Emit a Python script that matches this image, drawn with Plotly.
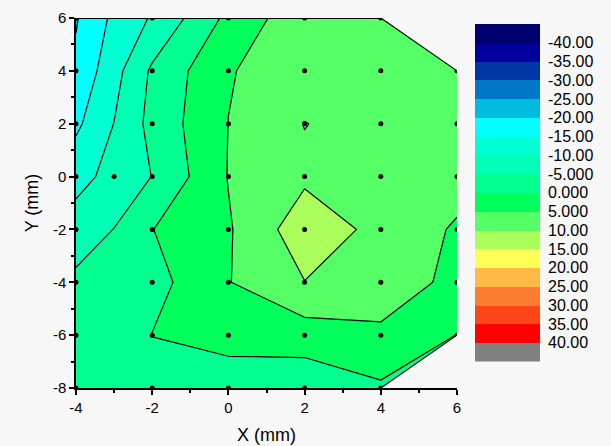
import plotly.graph_objects as go

# ---------------- data ----------------
x_grid = [-4, -2, 0, 2, 4, 6]
y_grid = [6, 4, 2, 0, -2, -4, -6, -8]
# rows follow y_grid (top to bottom), columns follow x_grid; None = no sample
z_rows = [
    [-20.4, -9.5, 1.2, 8.5, 7.0, None],
    [-19.0, -4.2, 4.7, 7.5, 7.5, 6.5],
    [-16.0, -3.4, 5.05, 10.12, 8.0, 7.0],
    [-11.6, -4.9, 5.2, 9.1, 8.5, 7.0],
    [-7.8, -0.1, 4.5, 13.0, 8.6, 4.4],
    [-3.9, -1.8, 4.8, 9.9, 8.0, 3.6],
    [-3.2, 0.1, 2.0, 2.5, 4.0, -0.1],
    [-2.8, -3.0, -3.0, -3.4, -0.7, None],
]
extra_x = [-3]
extra_y = [0]
extra_z = [-8.5]

level_start = -40
level_end = 40
level_step = 5
band_colors = [
    "#00006E", "#00009C", "#0036A6", "#0078C8", "#00BAE0", "#00FFFF",
    "#00FFD2", "#00FFB4", "#00FF8E", "#00FF5A", "#55FF66", "#AAFF5A",
    "#FFFF55", "#FFB946", "#FF7D32", "#FF4619", "#FF0000", "#808080",
]

x_ticks = [-4, -2, 0, 2, 4, 6]
y_ticks = [-8, -6, -4, -2, 0, 2, 4, 6]
x_title = "X (mm)"
y_title = "Y (mm)"

# ---------------- build ----------------
xs, ys, zs = [], [], []
for yv, row in zip(y_grid, z_rows):
    for xv, zv in zip(x_grid, row):
        if zv is not None:
            xs.append(xv)
            ys.append(yv)
            zs.append(zv)
xs += extra_x
ys += extra_y
zs += extra_z

levels = list(range(level_start, level_end + level_step, level_step))
n = len(band_colors) - 1
cscale = []
for k, c in enumerate(band_colors):
    cscale.append([max(0.0, (k - 0.5) / n), c])
    cscale.append([min(1.0, (k + 0.5) / n), c])
zlo = level_start - level_step / 2
zhi = level_end + level_step / 2
band_centers = [zlo + level_step * k for k in range(len(band_colors))]

BG = "#F7F7F7"
FONT = "Liberation Sans, Arial, sans-serif"
W, H = 611, 446

fig = go.Figure()
fig.add_trace(go.Contour(
    x=xs, y=ys, z=zs, connectgaps=True,
    colorscale=cscale, zmin=zlo, zmax=zhi, showscale=False,
    autocontour=False,
    contours=dict(start=level_start, end=level_end, size=level_step,
                  coloring="fill", showlines=True),
    line=dict(color="black", width=1.2, smoothing=0),
    hoverinfo="skip", xaxis="x", yaxis="y",
))
fig.add_trace(go.Scatter(
    x=xs, y=ys, mode="markers",
    marker=dict(color="black", size=5),
    hoverinfo="skip", xaxis="x", yaxis="y",
))
# colour key drawn as a one-column heatmap of band centres
fig.add_trace(go.Heatmap(
    x=[0], y=band_centers, z=[[v] for v in band_centers],
    colorscale=cscale, zmin=zlo, zmax=zhi, showscale=False,
    hoverinfo="skip", xaxis="x2", yaxis="y2",
))

# hull of the sampled region: mask the missing corners
xmin, xmax = min(x_grid), max(x_grid)
ymin, ymax = min(y_grid), max(y_grid)
pts = set(zip(xs, ys))
top_x = max(x for x, y in pts if y == ymax)
bot_x = max(x for x, y in pts if y == ymin)
right_top = max(y for x, y in pts if x == xmax)
right_bot = min(y for x, y in pts if x == xmax)
pad = 1
shapes = [
    dict(type="path", xref="x", yref="y", layer="above",
         path=f"M {top_x},{ymax} L {xmax},{right_top} L {xmax+pad},{right_top} "
              f"L {xmax+pad},{ymax+pad} L {top_x},{ymax+pad} Z",
         fillcolor=BG, line=dict(width=0)),
    dict(type="path", xref="x", yref="y", layer="above",
         path=f"M {bot_x},{ymin} L {xmax},{right_bot} L {xmax+pad},{right_bot} "
              f"L {xmax+pad},{ymin-pad} L {bot_x},{ymin-pad} Z",
         fillcolor=BG, line=dict(width=0)),
    dict(type="line", xref="x", yref="y", layer="above",
         x0=xmin, y0=ymax, x1=top_x, y1=ymax, line=dict(color="black", width=2)),
    dict(type="line", xref="x", yref="y", layer="above",
         x0=top_x, y0=ymax, x1=xmax, y1=right_top, line=dict(color="black", width=1.2)),
    dict(type="line", xref="x", yref="y", layer="above",
         x0=bot_x, y0=ymin, x1=xmax, y1=right_bot, line=dict(color="black", width=1.2)),
]

def lab(v):
    return str(v)

axis_common = dict(
    showgrid=False, zeroline=False, showline=True, linecolor="black", linewidth=1.5,
    ticks="outside", ticklen=5, tickwidth=1.5, tickcolor="black", automargin=False,
    tickfont=dict(size=15, color="black", family=FONT),
)

fig.update_layout(
    width=W, height=H, margin=dict(l=0, r=0, t=0, b=0, pad=0), autosize=False,
    paper_bgcolor=BG, plot_bgcolor=BG, showlegend=False,
    font=dict(family=FONT, color="black"),
    shapes=shapes,
    xaxis=dict(
        domain=[76 / W, 457 / W], range=[xmin, xmax], anchor="y",
        tickmode="array", tickvals=x_ticks, ticktext=[lab(v) for v in x_ticks],
        minor=dict(tickmode="linear", tick0=xmin, dtick=1, ticks="outside",
                   ticklen=3, tickwidth=1.5, tickcolor="black"),
        title=dict(text=x_title, font=dict(size=18, color="black"), standoff=14),
        **axis_common,
    ),
    yaxis=dict(
        domain=[(H - 388) / H, (H - 18) / H], range=[ymin, ymax], anchor="x",
        tickmode="array", tickvals=y_ticks, ticktext=[lab(v) for v in y_ticks],
        minor=dict(tickmode="linear", tick0=ymin, dtick=1, ticks="outside",
                   ticklen=3, tickwidth=1.5, tickcolor="black"),
        title=dict(text=y_title, font=dict(size=18, color="black"), standoff=10),
        **axis_common,
    ),
    xaxis2=dict(domain=[475 / W, 540 / W], range=[-0.5, 0.5], anchor="y2",
                visible=False, fixedrange=True, automargin=False),
    yaxis2=dict(domain=[(H - 361.5) / H, (H - 24) / H], range=[zhi + 2.5, zlo - 2.5],
                anchor="x2", side="right", showgrid=False, zeroline=False,
                showline=False, ticks="", tickmode="array", tickvals=levels,
                ticktext=[f"{v:#.4g}" for v in levels], ticklabelstandoff=7,
                automargin=False,
                tickfont=dict(size=16, color="black", family=FONT), fixedrange=True),
)

fig.write_html("out.html")
